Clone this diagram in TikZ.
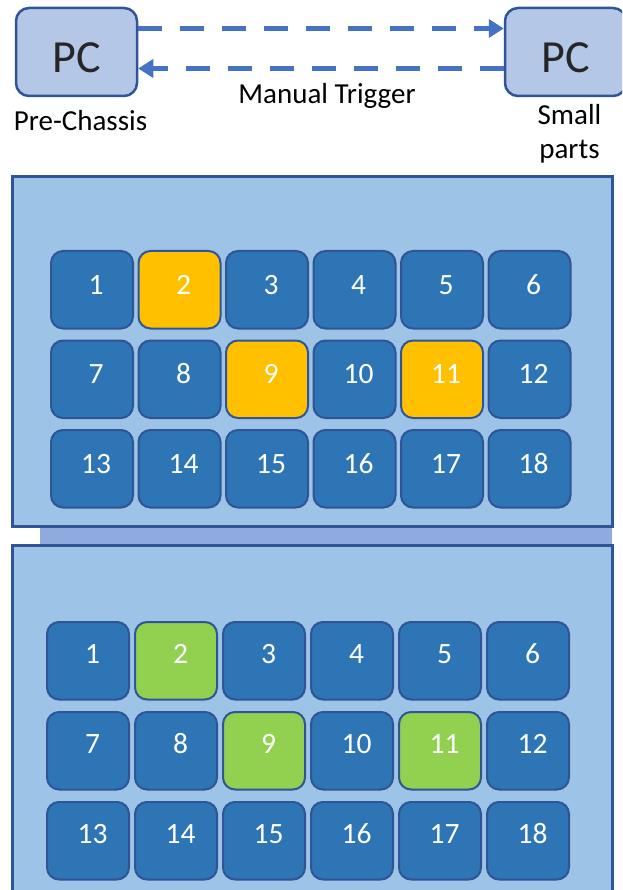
\documentclass[tikz,border=0pt]{standalone}
\usepackage{fontspec}
\setmainfont{Carlito}
\usetikzlibrary{arrows.meta}
\definecolor{panelfill}{HTML}{9DC3E6}
\definecolor{darkborder}{HTML}{2F5597}
\definecolor{tilefill}{HTML}{2E75B6}
\definecolor{hiyellow}{HTML}{FFC000}
\definecolor{higreen}{HTML}{92D050}
\definecolor{stripcol}{HTML}{8FAADC}
\definecolor{pcfill}{HTML}{B4C7E7}
\definecolor{arrowcol}{HTML}{4472C4}
\definecolor{pctext}{HTML}{262626}
\begin{document}
\begin{tikzpicture}[x=1pt,y=-1pt,
  panel/.style={draw=darkborder, line width=3pt, fill=panelfill, inner sep=0pt},
  tile/.style={draw=darkborder, line width=2pt, fill=tilefill, rounded corners=12pt,
    minimum width=82pt, minimum height=77.5pt, inner sep=0pt, text=white,
    font=\fontsize{29.5}{29.5}\selectfont},
  pcbox/.style={draw=darkborder, line width=2.5pt, fill=pcfill, rounded corners=13pt,
    minimum width=121pt, minimum height=88pt, inner sep=0pt,
    font=\fontsize{46}{46}\selectfont, text=pctext, text height=41.6pt, text depth=0pt},
  arrowline/.style={draw=arrowcol, line width=4.5pt, dash pattern=on 24pt off 18pt},
  lbl/.style={inner sep=0pt, font=\fontsize{29}{29}\selectfont, text=black}]
\useasboundingbox (0,0) rectangle (622,890);
\clip (0,0) rectangle (622,890);
\fill[white] (0,0) rectangle (622,890);
% connecting strip
\node[fill=stripcol, minimum width=572pt, minimum height=20pt, inner sep=0pt] (link) at (326,536) {};
% panels
\node[panel, minimum width=600pt, minimum height=349pt] (panelA) at (312,351.5) {};
\node[panel, minimum width=600pt, minimum height=355pt] (panelB) at (312,722.5) {};
% tiles, panel A
\foreach \r in {0,1,2}{
  \foreach \c in {0,...,5}{
    \pgfmathtruncatemacro{\n}{6*\r+\c+1}
    \pgfmathsetmacro{\tx}{92+87.5*\c}
    \pgfmathsetmacro{\ty}{289.75+89.5*\r}
    \def\tfill{tilefill}
    \ifnum\n=2 \def\tfill{hiyellow}\fi
    \ifnum\n=9 \def\tfill{hiyellow}\fi
    \ifnum\n=11 \def\tfill{hiyellow}\fi
    \node[tile, fill=\tfill, text height=18.5pt, text depth=9.5pt] (a\n) at (\tx,\ty) {\hspace*{8pt}\n};
  }
}
% tiles, panel B
\foreach \r in {0,1,2}{
  \foreach \c in {0,...,5}{
    \pgfmathtruncatemacro{\n}{6*\r+\c+1}
    \pgfmathsetmacro{\tx}{88+88*\c}
    \pgfmathsetmacro{\ty}{660.75+90*\r}
    \def\tfill{tilefill}
    \ifnum\n=2 \def\tfill{higreen}\fi
    \ifnum\n=9 \def\tfill{higreen}\fi
    \ifnum\n=11 \def\tfill{higreen}\fi
    \node[tile, fill=\tfill, text height=18.5pt, text depth=13.5pt] (b\n) at (\tx,\ty) {\hspace*{9pt}\n};
  }
}
% PC boxes
\node[pcbox] (pcL) at (76.5,52) {PC};
\node[pcbox] (pcR) at (565.5,52) {PC};
% arrows
\coordinate (yt) at (0,28.5);
\coordinate (yb) at (0,68.5);
\draw[arrowline, -{Triangle[length=15pt,width=18pt]}] (pcL.east |- yt) -- (pcR.west |- yt);
\draw[arrowline, -{Triangle[length=15pt,width=18pt]}] (pcR.west |- yb) -- (pcL.east |- yb);
% labels
\node[lbl, anchor=base] (pre) at (80.5,131) {Pre-Chassis};
\node[lbl, anchor=base] (trig) at (327,104) {Manual Trigger};
\node[lbl, anchor=base] (small) at (569.5,125) {Small};
\node[lbl, anchor=base] (parts) at (569.5,159) {parts};
\end{tikzpicture}
\end{document}
